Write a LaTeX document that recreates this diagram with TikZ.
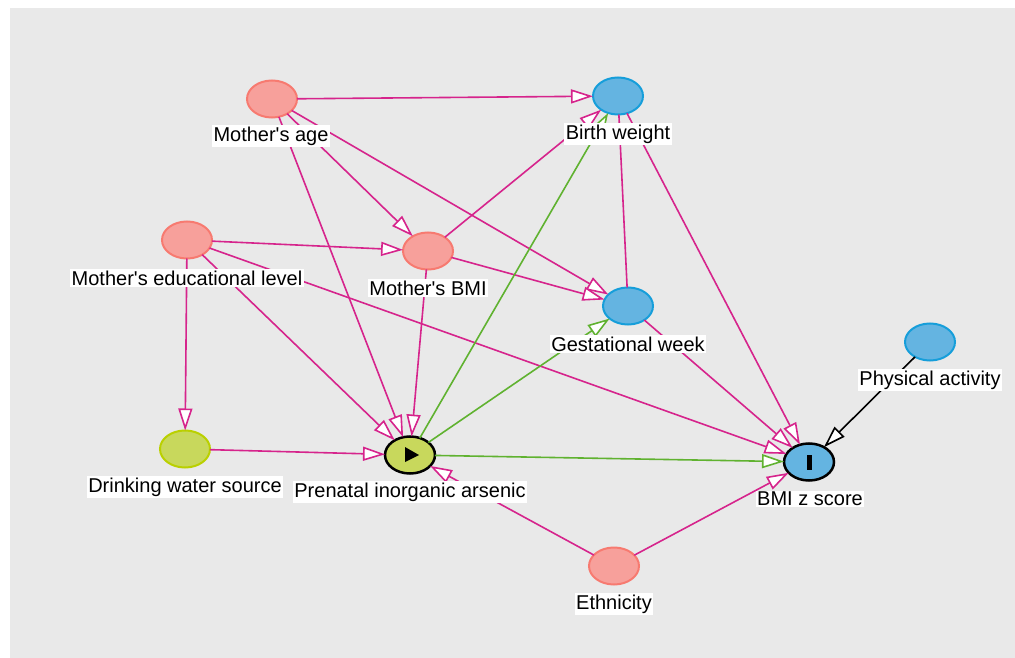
\documentclass[tikz,border=0pt]{standalone}
\usepackage{fontspec}
\setmainfont{Liberation Sans}
\usetikzlibrary{arrows.meta, shapes.geometric}
\definecolor{edgepink}{RGB}{214,36,140}
\definecolor{edgegreen}{RGB}{96,178,48}
\definecolor{conffill}{RGB}{247,160,155}
\definecolor{confline}{RGB}{247,122,112}
\definecolor{ancfill}{RGB}{100,180,225}
\definecolor{ancline}{RGB}{22,158,218}
\definecolor{expfill}{RGB}{200,216,92}
\definecolor{expline}{RGB}{186,208,0}
\definecolor{bggray}{RGB}{233,233,233}
\tikzset{
    %Define standard arrow tip
    >={Triangle[length=22pt,width=14pt,fill=white]},
}

\begin{document}
\begin{tikzpicture}[x=1pt, y=-1pt,
    var/.style  = {ellipse, draw, line width=2pt, minimum width=50pt,
                   minimum height=37pt, inner sep=0pt, outer sep=0pt},
    conf/.style = {var, fill=conffill, draw=confline},
    anc/.style  = {var, fill=ancfill, draw=ancline},
    lbl/.style  = {fill=white, inner sep=1.5pt, font=\fontsize{20}{24}\selectfont},
    pk/.style   = {->, draw=edgepink, line width=1.6pt},
    gr/.style   = {->, draw=edgegreen, line width=1.6pt},
  ]
  \useasboundingbox (0,0) rectangle (1015,658);
  \fill[bggray] (10,8) rectangle (1015,658);

  \node[conf] (age)   at (272, 99) {};
  \node[anc]  (bw)    at (618, 96) {};
  \node[conf] (edu)   at (187,240) {};
  \node[conf] (mbmi)  at (428,251) {};
  \node[anc]  (gest)  at (628,306) {};
  \node[anc]  (phys)  at (930,342) {};
  \node[var, fill=expfill, draw=expline] (water) at (185,449) {};
  \node[var, fill=expfill, draw=black, line width=2.5pt] (arsenic) at (410,455) {};
  \node[var, fill=ancfill, draw=black, line width=2.5pt] (bmiz) at (809,462) {};
  \node[conf] (eth)   at (614,566) {};

  \fill ([shift={(-5,-8)}]arsenic.center) -- ([shift={(9,0)}]arsenic.center)
        -- ([shift={(-5,7)}]arsenic.center) -- cycle;
  \fill ([shift={(-2.5,-7.5)}]bmiz.center) rectangle ([shift={(2.5,7.5)}]bmiz.center);

  \draw[pk] (age) -- (bw);
  \draw[pk] (age) -- (mbmi);
  \draw[pk] (age) -- (gest);
  \draw[pk] (age) -- (arsenic);
  \draw[pk] (edu) -- (mbmi);
  \draw[pk] (edu) -- (arsenic);
  \draw[pk] (edu) -- (bmiz);
  \draw[pk] (edu) -- (water);
  \draw[pk] (mbmi) -- (bw);
  \draw[pk] (mbmi) -- (gest);
  \draw[pk] (mbmi) -- (arsenic);
  \draw[pk, -] (bw) -- (gest);
  \draw[pk] (bw) -- (bmiz);
  \draw[pk] (gest) -- (bmiz);
  \draw[pk] (water) -- (arsenic);
  \draw[pk] (eth) -- (arsenic);
  \draw[pk] (eth) -- (bmiz);
  \draw[gr] (arsenic) -- (bw);
  \draw[gr] (arsenic) -- (gest);
  \draw[gr] (arsenic) -- (bmiz);
  \draw[->, line width=1.6pt] (phys) -- (bmiz);

  \node[lbl] (agelbl)   at (271,136) {Mother\textquotesingle s age};
  \node[lbl] (bwlbl)    at (618,134) {Birth weight};
  \node[lbl] (edulbl)   at (187,278) {Mother\textquotesingle s educational level};
  \node[lbl] (mbmilbl)  at (428,288) {Mother\textquotesingle s BMI};
  \node[lbl] (gestlbl)  at (628,344) {Gestational week};
  \node[lbl] (physlbl)  at (930,380) {Physical activity};
  \node[lbl] (waterlbl) at (185,487) {Drinking water source};
  \node[lbl] (arslbl)   at (410,492) {Prenatal inorganic arsenic};
  \node[lbl] (bmizlbl)  at (810,499) {BMI z score};
  \node[lbl] (ethlbl)   at (614,604) {Ethnicity};
\end{tikzpicture}
\end{document}
